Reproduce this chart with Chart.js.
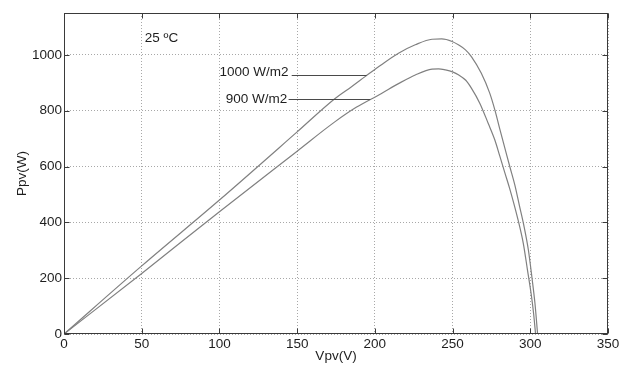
<!DOCTYPE html>
<html>
<head>
<meta charset="utf-8">
<script src="https://cdn.jsdelivr.net/npm/chart.js@4/dist/chart.umd.min.js"></script>
<style>
html,body{margin:0;padding:0;background:#fff;}
#wrap{width:634px;height:365px;}
</style>
</head>
<body>
<div id="wrap"><canvas id="c" width="634" height="365"></canvas></div>
<script>
// ---- data ----
const v1000 = [0, 50, 100, 150, 174, 185, 193.7, 204, 215.2, 226, 236.8, 243, 249.7, 254, 258.3, 262.1, 268.5, 273.9, 277.2, 280.4, 283.6, 286.8, 290, 293, 296, 298.8, 301, 303, 304.7];
const p1000 = [0, 244, 480, 724, 842, 886, 922, 964, 1006, 1036, 1056, 1057, 1048, 1035, 1018, 994, 934, 863, 803, 734, 667, 600, 535, 460, 385, 300, 205, 110, 0];
const v900 = [0, 50, 100, 150, 174, 188, 204, 215.2, 226, 236.8, 241, 245.4, 250, 254, 258.5, 262.1, 267.5, 272.9, 277.2, 280.4, 283.6, 286.8, 289.3, 292.3, 295.5, 298.2, 300.8, 302.2, 303.4];
const p900 = [0, 217, 438, 655, 759, 812, 861, 897, 928, 949, 950, 946, 939, 928, 909, 881, 827, 755, 695, 637, 578, 520, 470, 405, 325, 229, 134, 70, 0];
const xTicks = [0, 50, 100, 150, 200, 250, 300, 350];
const yTicks = [0, 200, 400, 600, 800, 1000];
const xTitle = 'Vpv(V)';
const yTitle = 'Ppv(W)';
const tempLabel = '25 ºC';
const seriesLabels = ['1000 W/m2', '900 W/m2'];
// annotation anchors in data units: [textV, textP, lineStartV, lineEndV, lineP]
const labelAnchors = [[100, 936, 146.5, 194.7, 928], [104, 842, 144.5, 197, 842]];
const tempAnchor = [52, 1059];

const toPts = (vs, ps) => vs.map((v, i) => ({x: v, y: ps[i]}));
const FONT = '"Liberation Sans", Arial, sans-serif';

const frame = {
  id: 'frame',
  afterDraw(chart) {
    const {ctx, chartArea: a, scales: {x, y}} = chart;
    ctx.save();
    ctx.strokeStyle = '#3a3a3a';
    ctx.lineWidth = 1;
    const L = Math.round(a.left) + 0.5, R = Math.round(a.right) - 0.5;
    const T = Math.round(a.top) + 0.5, B = Math.round(a.bottom) - 0.5;
    ctx.strokeRect(L, T, R - L, B - T);
    ctx.beginPath();
    xTicks.forEach(v => {
      const px = Math.round(x.getPixelForValue(v)) + 0.5;
      ctx.moveTo(px, B); ctx.lineTo(px, B - 5);
      ctx.moveTo(px, T); ctx.lineTo(px, T + 5);
    });
    yTicks.forEach(v => {
      const py = Math.round(y.getPixelForValue(v)) + 0.5;
      ctx.moveTo(L, py); ctx.lineTo(L + 5, py);
      ctx.moveTo(R, py); ctx.lineTo(R - 5, py);
    });
    ctx.stroke();

    ctx.fillStyle = '#1e1e1e';
    ctx.font = '13.5px ' + FONT;
    ctx.textBaseline = 'middle';
    ctx.textAlign = 'center';
    ctx.fillText(xTitle, (a.left + a.right) / 2, 356);
    ctx.save();
    ctx.translate(22, (a.top + a.bottom) / 2);
    ctx.rotate(-Math.PI / 2);
    ctx.fillText(yTitle, 0, 0);
    ctx.restore();
    ctx.textAlign = 'left';
    ctx.fillText(tempLabel, x.getPixelForValue(tempAnchor[0]), y.getPixelForValue(tempAnchor[1]));
    ctx.strokeStyle = '#4a4a4a';
    labelAnchors.forEach((an, i) => {
      ctx.fillText(seriesLabels[i], x.getPixelForValue(an[0]), y.getPixelForValue(an[1]));
      const py = Math.round(y.getPixelForValue(an[4])) + 0.5;
      ctx.beginPath();
      ctx.moveTo(x.getPixelForValue(an[2]), py);
      ctx.lineTo(x.getPixelForValue(an[3]), py);
      ctx.stroke();
    });
    ctx.restore();
  }
};

const gridOpts = {color: '#a8a8a8', drawTicks: false, lineWidth: 1};
const tickFont = {family: FONT, size: 13.5};

new Chart(document.getElementById('c'), {
  type: 'scatter',
  data: {
    datasets: [
      {label: seriesLabels[0], data: toPts(v1000, p1000), showLine: true, borderColor: '#808080', borderWidth: 1.2, pointRadius: 0, cubicInterpolationMode: 'monotone'},
      {label: seriesLabels[1], data: toPts(v900, p900), showLine: true, borderColor: '#808080', borderWidth: 1.2, pointRadius: 0, cubicInterpolationMode: 'monotone'}
    ]
  },
  options: {
    responsive: false,
    animation: false,
    layout: {padding: {top: 13, right: 26, left: 0, bottom: 0}},
    plugins: {legend: {display: false}, tooltip: {enabled: false}},
    scales: {
      x: {
        type: 'linear', min: 0, max: 350,
        afterFit(s) { s.height = 31; },
        afterBuildTicks(s) { s.ticks = xTicks.map(v => ({value: v})); },
        border: {display: false, dash: [1, 2]},
        grid: gridOpts,
        ticks: {color: '#1e1e1e', font: tickFont, padding: 2, maxRotation: 0, callback: v => String(v)}
      },
      y: {
        type: 'linear', min: 0, max: 1150,
        afterFit(s) { s.width = 64; },
        afterBuildTicks(s) { s.ticks = yTicks.map(v => ({value: v})); },
        border: {display: false, dash: [1, 2]},
        grid: gridOpts,
        ticks: {color: '#1e1e1e', font: tickFont, padding: 2, callback: v => String(v)}
      }
    }
  },
  plugins: [frame]
});
</script>
</body>
</html>
